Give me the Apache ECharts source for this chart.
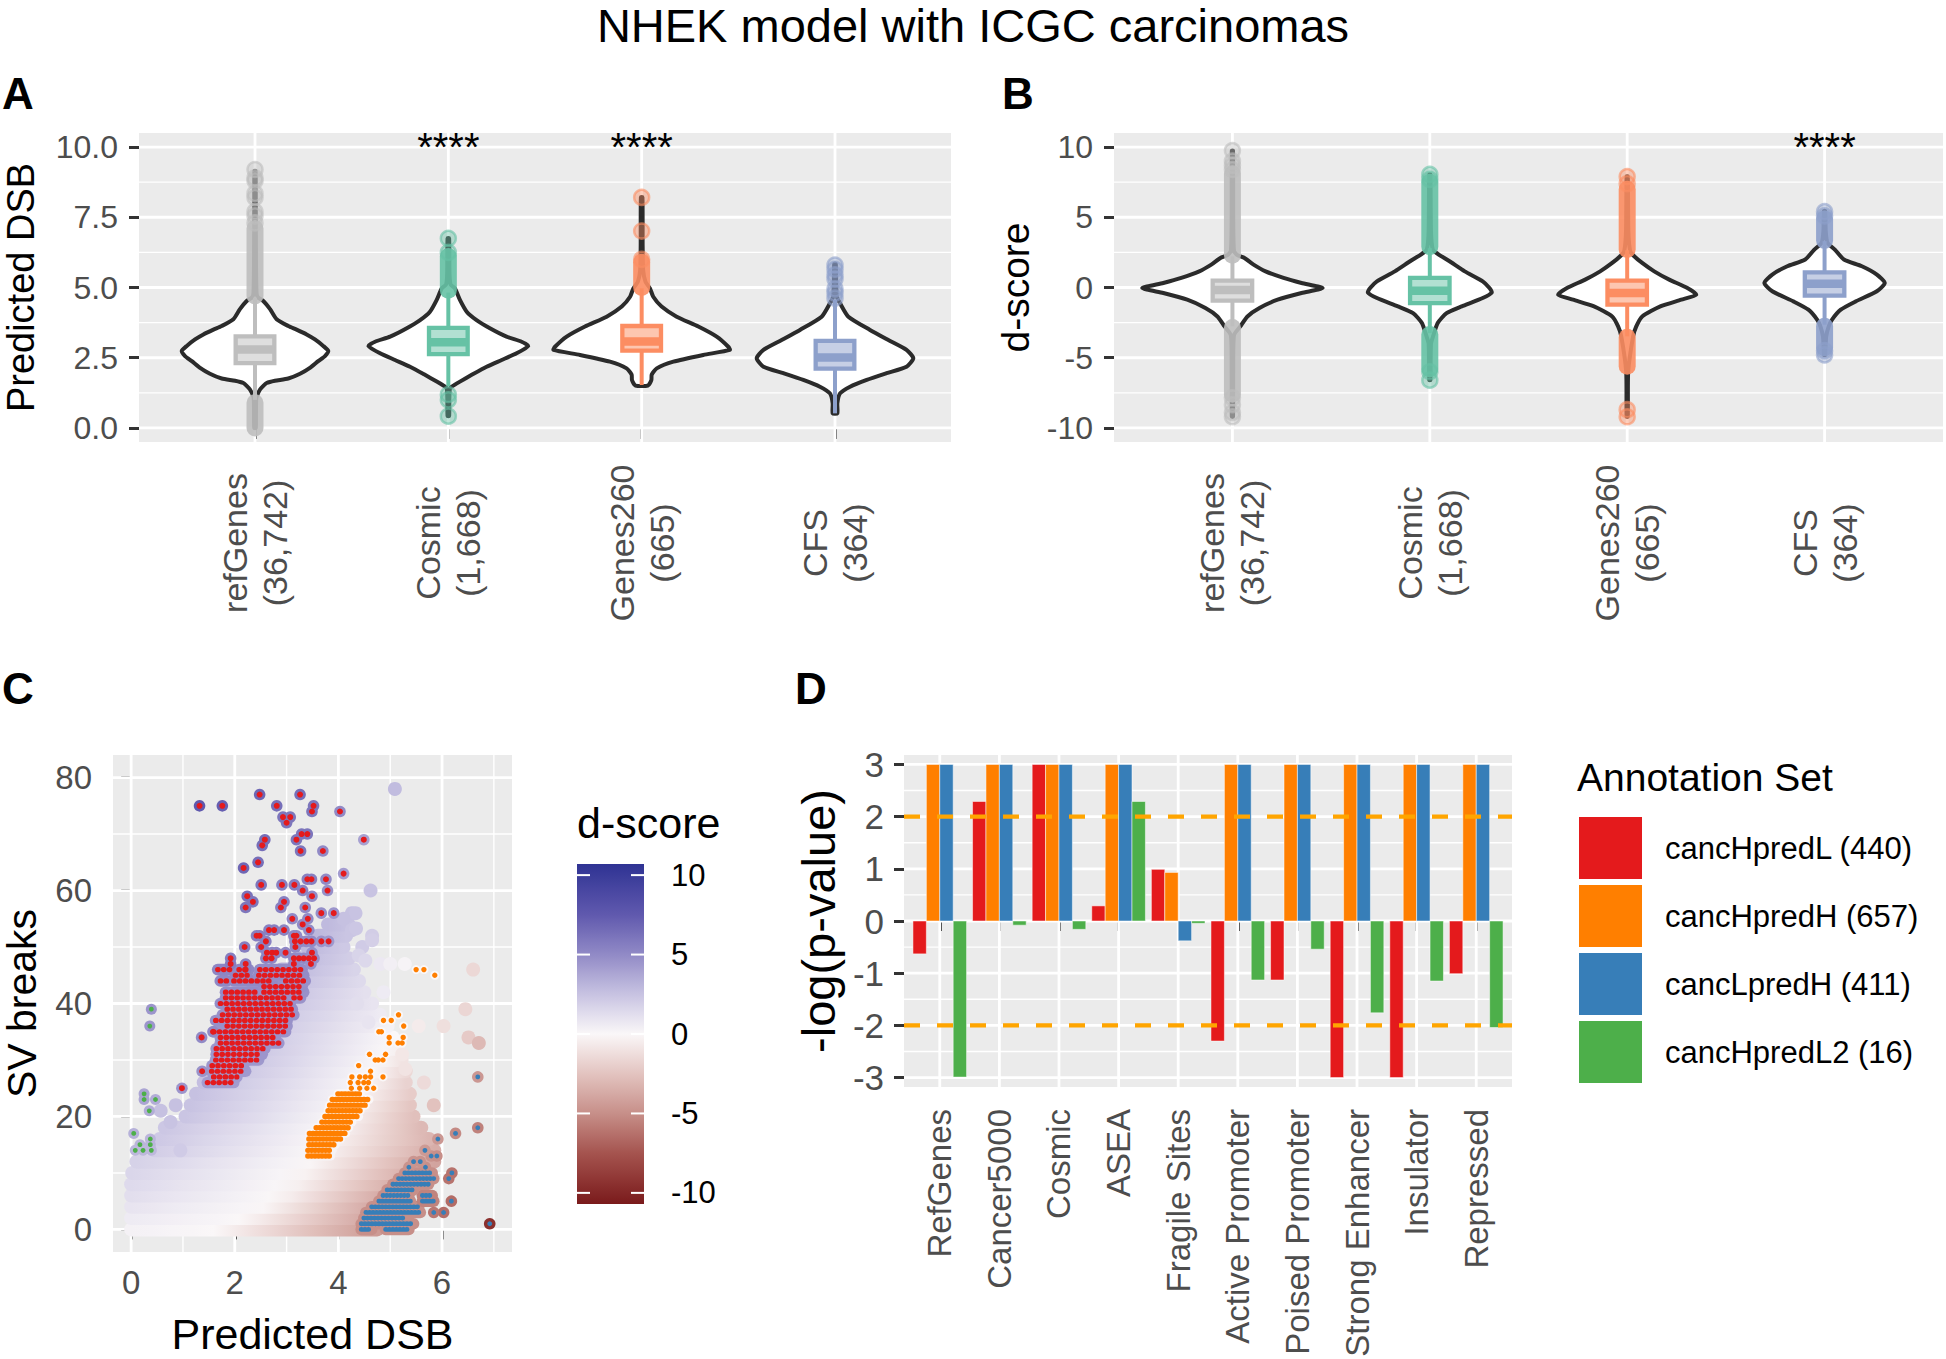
<!DOCTYPE html>
<html>
<head>
<meta charset="utf-8">
<title>NHEK model with ICGC carcinomas</title>
<script src="https://cdn.jsdelivr.net/npm/echarts@6.0.0/dist/echarts.min.js"></script>
<style>
html, body { margin:0; padding:0; background:#ffffff; }
#chart { width:1946px; height:1359px; }
</style>
</head>
<body>
<div id="chart"></div>
<script>
// ================= Panels A & B : categories =================
const abCategories = ['refGenes', 'Cosmic', 'Genes260', 'CFS'];
const abCounts = ['36,742', '1,668', '665', '364'];
const abColors = ['#BEBEBE', '#66C2A5', '#FC8D62', '#8DA0CB'];

// ---- Panel A : Predicted DSB ----
const aTicks = [0, 2.5, 5, 7.5, 10];
const aMinorTicks = [1.25, 3.75, 6.25, 8.75];
// violin outline: [value, half width (category units)]
const aViolinRefGenes = [[0.0,0.004],[0.5,0.005],[1.0,0.006],[1.13,0.009],[1.37,0.026],[1.5,0.043],[1.6,0.06],[1.68,0.103],[1.76,0.172],[1.93,0.233],[2.14,0.284],[2.38,0.327],[2.56,0.362],[2.74,0.379],[2.92,0.353],[3.15,0.31],[3.33,0.267],[3.5,0.215],[3.63,0.172],[3.87,0.112],[4.23,0.078],[4.52,0.043],[4.65,0.015],[4.8,0.008],[6.0,0.005],[8.0,0.004],[9.15,0.003]];
const aViolinCosmic = [[0.42,0.004],[1.0,0.005],[1.4,0.008],[1.47,0.017],[1.65,0.06],[1.89,0.121],[2.18,0.198],[2.42,0.276],[2.66,0.353],[2.92,0.413],[3.07,0.379],[3.25,0.301],[3.55,0.215],[3.84,0.146],[4.14,0.095],[4.56,0.06],[4.97,0.034],[5.1,0.012],[5.5,0.006],[6.75,0.004]];
const aViolinGenes260 = [[1.51,0.032],[1.7,0.05],[1.9,0.052],[2.12,0.078],[2.36,0.164],[2.6,0.319],[2.78,0.456],[2.89,0.448],[3.25,0.388],[3.61,0.293],[3.96,0.181],[4.32,0.103],[4.67,0.06],[4.97,0.043],[5.2,0.02],[5.6,0.008],[6.5,0.005],[8.21,0.004]];
const aViolinCFS = [[0.52,0.012],[0.88,0.012],[1.23,0.026],[1.47,0.078],[1.71,0.164],[1.95,0.267],[2.18,0.37],[2.48,0.405],[2.78,0.37],[3.13,0.276],[3.49,0.181],[3.96,0.069],[4.44,0.026],[4.67,0.01],[5.2,0.006],[5.85,0.004]];
// box: [lower whisker, Q1, median, Q3, upper whisker]
const aBoxRefGenes = [1.0, 2.31, 2.79, 3.26, 4.64];
const aBoxCosmic = [1.49, 2.63, 3.05, 3.56, 4.82];
const aBoxGenes260 = [1.53, 2.75, 3.08, 3.63, 4.97];
const aBoxCFS = [0.52, 2.11, 2.51, 3.10, 4.56];
// outliers: dense runs [from, to] and single points
const aRunsRefGenes = [[4.7, 7.1], [0.0, 0.9]];
const aPointsRefGenes = [7.3, 7.55, 7.7, 8.2, 8.35, 8.8, 8.9, 9.2];
const aRunsCosmic = [[4.9, 6.1]];
const aPointsCosmic = [6.25, 6.75, 1.19, 1.0, 0.42];
const aRunsGenes260 = [[5.0, 5.9]];
const aPointsGenes260 = [6.0, 7.01, 8.21];
const aRunsCFS = [];
const aPointsCFS = [4.62, 4.8, 4.95, 5.3, 5.45, 5.65, 5.8];
const aStars = ['', '****', '****', ''];

// ---- Panel B : d-score ----
const bTicks = [-10, -5, 0, 5, 10];
const bMinorTicks = [-7.5, -2.5, 2.5, 7.5];
const bViolinRefGenes = [[-9.2,0.003],[-6.0,0.004],[-3.4,0.008],[-2.77,0.04],[-2.06,0.076],[-1.46,0.137],[-0.87,0.229],[-0.39,0.35],[-0.04,0.457],[0.32,0.35],[0.68,0.259],[1.15,0.168],[1.63,0.107],[2.1,0.061],[2.3,0.025],[2.6,0.008],[5.0,0.004],[9.75,0.003]];
const bViolinCosmic = [[-6.6,0.003],[-4.0,0.006],[-3.41,0.018],[-2.53,0.04],[-1.82,0.085],[-1.34,0.162],[-0.75,0.268],[-0.35,0.314],[0.0,0.3],[0.44,0.268],[1.15,0.177],[1.87,0.1],[2.4,0.04],[2.7,0.015],[4.0,0.006],[8.05,0.003]];
const bViolinGenes260 = [[-9.2,0.003],[-6.0,0.005],[-3.48,0.03],[-2.77,0.046],[-2.06,0.076],[-1.34,0.168],[-0.87,0.274],[-0.51,0.35],[-0.04,0.305],[0.56,0.213],[1.15,0.137],[1.75,0.076],[2.3,0.03],[2.58,0.015],[4.0,0.006],[7.9,0.003]];
const bViolinCFS = [[-4.8,0.003],[-3.5,0.008],[-2.77,0.021],[-2.3,0.037],[-1.58,0.082],[-0.99,0.158],[-0.27,0.265],[0.32,0.305],[0.92,0.265],[1.51,0.189],[1.99,0.098],[2.7,0.052],[3.18,0.015],[4.0,0.006],[5.45,0.003]];
const bBoxRefGenes = [-2.77, -0.94, -0.18, 0.49, 2.22];
const bBoxCosmic = [-3.25, -1.11, -0.23, 0.68, 2.8];
const bBoxGenes260 = [-3.48, -1.22, -0.39, 0.49, 2.65];
const bBoxCFS = [-2.65, -0.58, 0.27, 1.08, 3.3];
const bRunsRefGenes = [[2.3, 8.1], [-7.6, -2.85]];
const bPointsRefGenes = [8.4, 8.7, 9.0, 9.75, -7.85, -8.35, -8.9, -9.2];
const bRunsCosmic = [[2.9, 7.5], [-5.8, -3.35]];
const bPointsCosmic = [7.7, 8.05, -6.0, -6.6];
const bRunsGenes260 = [[2.7, 7.0], [-5.6, -3.55]];
const bPointsGenes260 = [7.4, 7.9, -8.7, -9.2];
const bRunsCFS = [[3.35, 4.9], [-4.3, -2.75]];
const bPointsCFS = [5.1, 5.4, -4.5, -4.8];
const bStars = ['', '', '', '****'];

// ================= Panel C : SV breaks vs predicted DSB =================
const cXTicks = [0, 2, 4, 6];
const cXMinor = [1, 3, 5, 7];
const cYTicks = [0, 20, 40, 60, 80];
const cYMinor = [10, 30, 50, 70];
// background gene cloud, one band per SV-break level:
// [SV breaks, x from, x to, d-score at left end, x where d-score = 0 (or null), d-score at right end]
const cCloudRows = [
  [0, 0.0, 4.75, 0.3, 1.6, -4.5],
  [2, 0.0, 4.95, 0.6, 2.1, -4.5],
  [4, 0.0, 5.1, 0.9, 2.5, -4.6],
  [6, 0.0, 5.3, 1.2, 2.8, -4.6],
  [8, 0.0, 5.55, 1.4, 3.0, -4.4],
  [10, 0.02, 5.75, 1.6, 3.2, -4.2],
  [12, 0.1, 5.85, 1.8, 3.4, -4.0],
  [14, 0.45, 5.85, 2.0, 3.6, -3.6],
  [16, 0.55, 5.75, 2.2, 3.75, -3.2],
  [18, 0.65, 5.6, 2.3, 3.9, -3.0],
  [20, 1.05, 5.45, 2.4, 4.05, -2.7],
  [22, 1.15, 5.38, 2.5, 4.2, -2.4],
  [24, 1.25, 5.38, 2.6, 4.35, -2.1],
  [26, 1.4, 5.3, 2.7, 4.5, -1.8],
  [28, 1.55, 5.3, 2.8, 4.65, -1.5],
  [30, 1.65, 5.22, 2.9, 4.8, -1.0],
  [32, 1.7, 5.15, 3.0, 4.95, -0.4],
  [34, 1.75, 5.05, 3.0, null, 0.0],
  [36, 1.85, 4.95, 3.0, null, 0.3],
  [38, 1.9, 4.8, 3.1, null, 0.6],
  [40, 2.0, 4.65, 3.2, null, 0.9],
  [42, 2.3, 4.5, 3.2, null, 1.1],
  [44, 2.6, 4.4, 3.2, null, 1.4],
  [46, 2.9, 4.3, 3.2, null, 1.7],
  [48, 3.2, 4.2, 3.0, null, 2.0],
  [50, 3.4, 4.1, 3.0, null, 2.2],
  [52, 3.6, 4.15, 3.0, null, 2.4],
  [54, 3.8, 4.2, 2.9, null, 2.5]
];
// isolated background genes [predicted DSB, SV breaks, d-score]
const cCloudPoints = [[5.09,78,2.8],[4.62,60,2.5],[4.26,56,2.6],[4.33,56,2.5],[4.10,55,2.6],[4.26,53,2.4],[4.34,53.3,2.3],[4.65,52,2],[4.46,50,2.1],[4.65,51.2,1.9],[4.39,48.5,1.7],[4.52,47.6,1.5],[4.81,47,0.7],[5.0,47,0.4],[5.28,47,0.2],[4.87,42,0.6],[4.36,40,1.2],[4.58,36.7,0.9],[6.6,46,-1.5],[6.45,39,-1.6],[6.03,36,-1.2],[5.55,36,-0.6],[6.51,34,-2.2],[6.71,33,-3],[5.65,26,-1.4],[5.84,22,-2.6],[5.23,31,-0.8],[5.29,28.4,-1],[0.86,22,2.6],[0.76,19,2.5],[0.57,21,2.6],[0.95,14,2.1]];
// cancHpredL genes: dense rows [SV breaks, x from, x to, d-score] and single genes [x, y, d-score]
const cRedRows = [[26,1.47,1.98,4.2],[27,1.59,2.04,4.3],[28,1.55,2.21,4.3],[29,1.56,2.17,4.4],[30,1.63,2.46,4.4],[31,1.64,2.53,4.5],[32,1.64,2.58,4.5],[33,1.72,2.85,4.5],[34,1.72,2.78,4.6],[35,1.59,2.98,4.6],[36,1.85,3.01,4.6],[37,1.63,3.01,4.7],[38,1.76,3.14,4.7],[39,1.85,3.11,4.7],[40,1.72,3.07,4.8],[41,1.82,3.01,4.8],[41,3.14,3.27,4.6],[42,1.82,2.46,4.9],[42,2.56,3.33,4.7],[43,2.56,3.30,4.8],[44,1.72,1.85,5.1],[44,1.98,2.72,5.0],[44,2.98,3.36,4.7],[45,2.01,2.24,5.1],[45,2.46,3.33,4.9],[46,1.67,1.92,5.2],[46,2.08,2.27,5.1],[46,2.48,3.30,4.9]];
const cRedPoints = [[1.32,75,7.5],[1.76,75,7.2],[2.48,77,6.8],[3.26,77,6.4],[2.81,75,6.4],[3.52,75,6],[3.49,74,6],[4.03,74,5],[2.93,73,6],[3.07,73,6],[3.0,72,6],[2.58,69,6.4],[2.53,68,6.4],[3.29,70,6],[3.40,70,6],[3.19,69,6],[3.27,67,6],[3.70,67,5],[4.49,69,4],[2.17,64,6.8],[2.45,65,6.4],[4.10,63,4.2],[2.51,61,6],[2.91,61,5.5],[3.15,61,5.5],[3.40,62,5.5],[3.48,62,5.5],[3.76,62,5],[3.31,60,5.3],[3.79,60,4.8],[2.24,59,6.2],[2.35,58,6],[2.21,57,6],[2.95,58,5.5],[2.89,57,5.5],[3.49,59,5],[3.36,57,5],[3.67,56,4.8],[3.91,56,4.5],[3.11,55,5],[3.41,55,5],[3.31,54,5],[3.43,53,5],[2.66,53,5.5],[2.76,53,5.5],[2.95,53,5.3],[2.42,52,5.5],[2.48,52,5.5],[3.14,52,5],[3.19,52,5],[2.60,51,5.4],[3.16,51,5],[3.27,51,5],[3.38,51,5],[3.48,51,5],[3.67,51,4.6],[3.81,51,4.4],[2.19,50,5.6],[2.51,50,5.4],[3.17,50,5],[1.92,48,5.6],[2.62,49,5.2],[2.72,49,5.2],[2.80,49,5.2],[2.98,49,5.1],[3.49,49,4.8],[2.60,48,5.2],[2.71,48,5.2],[3.14,48,5],[3.24,48,5],[3.33,48,5],[3.43,48,4.9],[3.53,48,4.8],[2.21,47,5.4],[3.14,47,5],[3.47,47,4.7],[1.92,47,5.6],[2.21,46,5.3],[0.98,25,4.5],[1.37,28,4.6],[1.36,34,5],[1.58,35,5]];
// cancHpredH genes
const cOrangeRows = [[13,3.41,3.85,0.2],[14,3.41,3.88,0.2],[15,3.43,3.94,0.2],[16,3.43,4.04,0.15],[17,3.44,4.14,0.1],[18,3.57,4.20,0.1],[19,3.68,4.26,0.1],[20,3.74,4.39,0.05],[21,3.80,4.42,0],[22,3.83,4.52,0],[23,3.88,4.59,0],[24,3.99,4.42,0]];
const cOrangePoints = [[4.25,25,0],[4.41,25,0],[4.55,25,0],[4.68,25,0],[4.23,26,0],[4.38,26,0],[4.49,26,0],[4.58,26,0],[4.26,27,0],[4.41,27,0],[4.52,27,0],[4.62,27,0],[4.86,27,0],[4.62,28,0],[4.39,29,0],[4.71,30,0],[4.77,30,0],[4.86,30,0],[4.60,31,0],[4.91,31,0],[4.98,33,0],[5.15,33,0],[5.23,33,0],[4.98,34,0],[5.25,34,0],[4.78,35,0],[4.83,35,0],[5.26,36,0],[4.87,37,0],[5.02,37,0],[5.16,38,0],[5.50,46,0],[5.65,46,0],[5.86,45,0]];
// cancLpredH genes
const cBlueRows = [[0,4.44,4.64,-5],[0,4.91,5.36,-5],[1,4.44,5.45,-5],[2,4.49,5.29,-5],[3,4.53,5.58,-5],[4,4.64,5.55,-5],[5,4.78,5.39,-5],[5,5.62,5.84,-5.5],[6,4.86,5.36,-5],[6,5.62,5.81,-5.5],[7,4.94,5.45,-5],[8,5.05,5.74,-5],[9,5.16,5.84,-5],[10,5.28,5.81,-5]];
const cBluePoints = [[5.36,11,-4.8],[5.68,11,-5],[5.45,12,-4.7],[5.58,12,-4.8],[5.79,13,-4.8],[5.90,13,-5],[5.67,14,-4.5],[5.92,16,-4.6],[6.26,17,-5.2],[6.69,18,-5.6],[6.69,27,-4.6],[6.19,10,-6.2],[6.13,9,-6.2],[6.18,5,-6.5],[6.03,3,-6.4],[5.84,3,-6],[6.92,1,-9.5]];
// cancHpredL2 genes
const cGreenPoints = [[0.39,39,4.5],[0.36,36,4.5],[0.25,24,3.8],[0.25,23,3.8],[0.47,23,3.5],[0.35,21,3.5],[0.05,17,3.3],[0.17,15,3.1],[0.37,16,3.1],[0.37,15,3.1],[0.08,14,3.0],[0.23,14,3.0],[0.39,14,3.0]];
// d-score colour bar
const cbTicks = [-10, -5, 0, 5, 10];
const cbMin = -10.7, cbMax = 10.7;
const dScoreStops = [[-10.7,'#7A1A1B'],[-7.5,'#A5544F'],[-5,'#C78F89'],[-2.5,'#E3C4C0'],[0,'#FAF7F8'],[2.5,'#C8C3E2'],[5,'#918AC6'],[7.5,'#6059AE'],[10.7,'#2F3393']];

// ================= Panel D : enrichment =================
const dCategories = ['RefGenes','Cancer5000','Cosmic','ASEA','Fragile Sites','Active Promoter','Poised Promoter','Strong Enhancer','Insulator','Repressed'];
const dSets = ['cancHpredL (440)', 'cancHpredH (657)', 'cancLpredH (411)', 'cancHpredL2 (16)'];
const dColors = ['#E41A1C', '#FF7F00', '#377EB8', '#4DAF4A'];
const dCancHpredL  = [-0.63, 2.29, 3, 0.29, 0.99, -2.30, -1.13, -3, -3, -1.01];
const dCancHpredH  = [3, 3, 3, 3, 0.93, 3, 3, 3, 3, 3];
const dCancLpredH  = [3, 3, 3, 3, -0.38, 3, 3, 3, 3, 3];
const dCancHpredL2 = [-2.99, -0.08, -0.16, 2.29, -0.045, -1.13, -0.54, -1.76, -1.15, -2.04];
const dThresholds = [2, -2];
const dTicks = [-3, -2, -1, 0, 1, 2, 3];
const dMinor = [-2.5, -1.5, -0.5, 0.5, 1.5, 2.5];

// ================= helpers =================
const FONT = '"Liberation Sans", Arial, Helvetica, sans-serif';
const TICK_COLOR = '#333333', LABEL_COLOR = '#4D4D4D', PANEL_BG = '#EBEBEB';

function hexRgb(h) { const n = parseInt(h.slice(1), 16); return [(n >> 16) & 255, (n >> 8) & 255, n & 255]; }
function rgba(h, a) { const c = hexRgb(h); return 'rgba(' + c[0] + ',' + c[1] + ',' + c[2] + ',' + a + ')'; }
function dColor(d) {
  const s = dScoreStops;
  if (d <= s[0][0]) return s[0][1];
  if (d >= s[s.length - 1][0]) return s[s.length - 1][1];
  for (let i = 1; i < s.length; i++) {
    if (d <= s[i][0]) {
      const t = (d - s[i - 1][0]) / (s[i][0] - s[i - 1][0]);
      const a = hexRgb(s[i - 1][1]), b = hexRgb(s[i][1]);
      return 'rgb(' + a.map((v, k) => Math.round(v + (b[k] - v) * t)).join(',') + ')';
    }
  }
  return s[s.length - 1][1];
}

function axis(gridIndex, min, max, ticks, labelOpts, tickOpts, extra) {
  return Object.assign({
    type: 'value', gridIndex: gridIndex, min: min, max: max,
    axisLine: { show: false },
    axisTick: Object.assign({ show: true, customValues: ticks, length: 10, lineStyle: { color: TICK_COLOR, width: 3 } }, tickOpts || {}),
    axisLabel: Object.assign({ show: true, customValues: ticks, color: LABEL_COLOR, fontSize: 32, fontFamily: FONT, margin: 21 }, labelOpts || {}),
    splitLine: { show: false }, minorTick: { show: false }, minorSplitLine: { show: false }
  }, extra || {});
}

function panelGridSeries(gi, xMajor, xMinor, yMajor, yMinor) {
  return {
    type: 'custom', xAxisIndex: gi, yAxisIndex: gi, silent: true, data: [[0, 0]],
    renderItem: function (params, api) {
      const cs = params.coordSys, ch = [];
      const xl = cs.x, xr = cs.x + cs.width, yt = cs.y, yb = cs.y + cs.height;
      const h = (v, w) => { const y = api.coord([0, v])[1]; ch.push({ type: 'line', shape: { x1: xl, y1: y, x2: xr, y2: y }, style: { stroke: '#ffffff', lineWidth: w } }); };
      const vt = (v, w) => { const x = api.coord([v, 0])[0]; ch.push({ type: 'line', shape: { x1: x, y1: yt, x2: x, y2: yb }, style: { stroke: '#ffffff', lineWidth: w } }); };
      yMinor.forEach(v => h(v, 1.4)); xMinor.forEach(v => vt(v, 1.4));
      yMajor.forEach(v => h(v, 2.8)); xMajor.forEach(v => vt(v, 2.8));
      return { type: 'group', children: ch };
    }
  };
}

function violinSeries(gi, profiles, boxes, runs, points, stars) {
  return {
    type: 'custom', xAxisIndex: gi, yAxisIndex: gi, silent: true,
    data: boxes.map((b, i) => [i + 1, b[2]]),
    renderItem: function (params, api) {
      const i = params.dataIndex, cat = i + 1, col = abColors[i];
      const prof = profiles[i];
      const right = prof.map(p => api.coord([cat + p[1], p[0]]));
      const left = prof.slice().reverse().map(p => api.coord([cat - p[1], p[0]]));
      const ch = [];
      ch.push({ type: 'polygon', shape: { points: right.concat(left), smooth: 0.2 }, style: { fill: '#ffffff', stroke: '#2b2b2b', lineWidth: 4, lineJoin: 'round' } });
      const seg = (x1, y1, x2, y2, style) => { const a = api.coord([x1, y1]), b = api.coord([x2, y2]); return { type: 'line', shape: { x1: a[0], y1: a[1], x2: b[0], y2: b[1] }, style: style }; };
      const bx = boxes[i];
      ch.push(seg(cat, bx[3], cat, bx[4], { stroke: col, lineWidth: 4 }));
      ch.push(seg(cat, bx[1], cat, bx[0], { stroke: col, lineWidth: 4 }));
      const bw = 0.1;
      const tl = api.coord([cat - bw, bx[3]]), br = api.coord([cat + bw, bx[1]]);
      ch.push({ type: 'rect', shape: { x: tl[0], y: tl[1], width: br[0] - tl[0], height: br[1] - tl[1] }, style: { fill: rgba(col, 0.5), stroke: col, lineWidth: 4.3 } });
      ch.push(seg(cat - bw, bx[2], cat + bw, bx[2], { stroke: col, lineWidth: 8.5 }));
      runs[i].forEach(r => ch.push(seg(cat, r[0], cat, r[1], { stroke: rgba(col, 0.9), lineWidth: 17, lineCap: 'round' })));
      points[i].forEach(v => { const p = api.coord([cat, v]); ch.push({ type: 'circle', shape: { cx: p[0], cy: p[1], r: 7.5 }, style: { fill: rgba(col, 0.42), stroke: rgba(col, 0.6), lineWidth: 2.5 } }); });
      if (stars[i]) {
        const p = api.coord([cat, 10]);
        ch.push({ type: 'text', style: { text: stars[i], x: p[0], y: p[1], align: 'center', verticalAlign: 'middle', textAlign: 'center', textVerticalAlign: 'middle', fontSize: 40, fontFamily: FONT, fill: '#000000' } });
      }
      return { type: 'group', children: ch };
    }
  };
}

function cloudRowSeries() {
  return {
    type: 'custom', xAxisIndex: 2, yAxisIndex: 2, silent: true, data: cCloudRows, encode: { x: 1, y: 0 },
    renderItem: function (params, api) {
      const r = cCloudRows[params.dataIndex];
      const y = r[0], x1 = r[1], x2 = r[2], dL = r[3], x0 = r[4], dR = r[5];
      const a = api.coord([x1, y]), b = api.coord([x2, y]);
      const stops = [];
      for (let k = 0; k <= 12; k++) {
        const t = k / 12, x = x1 + t * (x2 - x1);
        let d;
        if (x0 !== null) d = x <= x0 ? dL * (x0 - x) / (x0 - x1) : dR * (x - x0) / (x2 - x0);
        else d = dL + (dR - dL) * t;
        stops.push({ offset: t, color: dColor(d) });
      }
      return { type: 'line', shape: { x1: a[0], y1: a[1], x2: b[0], y2: b[1] },
        style: { stroke: { type: 'linear', x: a[0], y: 0, x2: b[0], y2: 0, global: true, colorStops: stops }, lineWidth: 14, lineCap: 'round' } };
    }
  };
}

// rows of genes: halo (d-score colour) or dotted core (set colour)
function rowSeries(rows, mode, color, width, gap) {
  return {
    type: 'custom', xAxisIndex: 2, yAxisIndex: 2, silent: true, data: rows, encode: { x: 1, y: 0 },
    renderItem: function (params, api) {
      const r = rows[params.dataIndex];
      const a = api.coord([r[1], r[0]]), b = api.coord([r[2], r[0]]);
      const style = mode === 'halo'
        ? { stroke: dColor(r[3]), lineWidth: width, lineCap: 'round' }
        : { stroke: color, lineWidth: width, lineCap: 'round', lineDash: [0.5, gap] };
      return { type: 'line', shape: { x1: a[0], y1: a[1], x2: b[0], y2: b[1] }, style: style };
    }
  };
}
function pointSeries(pts, mode, color, radius) {
  return {
    type: 'custom', xAxisIndex: 2, yAxisIndex: 2, silent: true, data: pts,
    renderItem: function (params, api) {
      const p = pts[params.dataIndex];
      const c = api.coord([p[0], p[1]]);
      return { type: 'circle', shape: { cx: c[0], cy: c[1], r: radius }, style: { fill: mode === 'halo' ? dColor(p[2]) : color } };
    }
  };
}

function colorBarSeries() {
  return {
    type: 'custom', xAxisIndex: 3, yAxisIndex: 3, silent: true, data: [[0, 0]],
    renderItem: function (params, api) {
      const top = api.coord([0, cbMax]), bot = api.coord([1, cbMin]);
      const stops = [];
      for (let k = 0; k <= 40; k++) { const d = cbMax - (k / 40) * (cbMax - cbMin); stops.push({ offset: k / 40, color: dColor(d) }); }
      const ch = [{ type: 'rect', shape: { x: top[0], y: top[1], width: bot[0] - top[0], height: bot[1] - top[1] },
        style: { fill: { type: 'linear', x: 0, y: 0, x2: 0, y2: 1, colorStops: stops } } }];
      cbTicks.forEach(v => {
        const y = api.coord([0, v])[1];
        ch.push({ type: 'line', shape: { x1: top[0], y1: y, x2: top[0] + 13, y2: y }, style: { stroke: '#ffffff', lineWidth: 2 } });
        ch.push({ type: 'line', shape: { x1: bot[0] - 13, y1: y, x2: bot[0], y2: y }, style: { stroke: '#ffffff', lineWidth: 2 } });
      });
      return { type: 'group', children: ch };
    }
  };
}

const dValues = [dCancHpredL, dCancHpredH, dCancLpredH, dCancHpredL2];
function barSeries(k) {
  return {
    type: 'custom', name: dSets[k], xAxisIndex: 4, yAxisIndex: 4, silent: true,
    itemStyle: { color: dColors[k] },
    data: dValues[k].map((v, i) => [i + 1, v]),
    renderItem: function (params, api) {
      const x = api.value(0), v = api.value(1), w = 0.9 / 4;
      const xl = x - 0.45 + k * w;
      const a = api.coord([xl, v]), b = api.coord([xl + w, 0]);
      return { type: 'rect', shape: { x: a[0], y: Math.min(a[1], b[1]), width: b[0] - a[0], height: Math.abs(b[1] - a[1]) },
        style: { fill: dColors[k], stroke: 'rgba(255,255,255,0.5)', lineWidth: 1 } };
    }
  };
}
function thresholdSeries() {
  return {
    type: 'custom', xAxisIndex: 4, yAxisIndex: 4, silent: true, data: dThresholds.map(v => [0.4, v]),
    renderItem: function (params, api) {
      const v = api.value(1);
      const a = api.coord([0.4, v]), b = api.coord([10.6, v]);
      return { type: 'line', shape: { x1: a[0], y1: a[1], x2: b[0], y2: b[1] }, style: { stroke: '#FFA500', lineWidth: 4.3, lineDash: [16, 17] } };
    }
  };
}

function txt(text, x, y, size, opts) {
  return Object.assign({ type: 'text', x: x, y: y, silent: true,
    style: Object.assign({ text: text, x: 0, y: 0, fill: '#000000', fontSize: size, fontFamily: FONT, align: 'center', verticalAlign: 'middle', textAlign: 'center', textVerticalAlign: 'middle' }, (opts && opts.style) || {}) },
    (opts && opts.el) || {});
}

const abLabel = v => abCategories[v - 1] + '\n(' + abCounts[v - 1] + ')';
const gridBase = { show: true, backgroundColor: PANEL_BG, borderWidth: 0, containLabel: false, outerBoundsMode: 'none' };

const option = {
  animation: false,
  backgroundColor: '#ffffff',
  textStyle: { fontFamily: FONT },
  grid: [
    Object.assign({ left: 139, top: 133, width: 812, height: 309 }, gridBase),
    Object.assign({ left: 1114, top: 133, width: 829, height: 309 }, gridBase),
    Object.assign({ left: 113, top: 755, width: 399, height: 497 }, gridBase),
    { left: 577, top: 864, width: 67, height: 340, show: false, containLabel: false, outerBoundsMode: 'none' },
    Object.assign({ left: 904, top: 755, width: 608, height: 332 }, gridBase)
  ],
  xAxis: [
    axis(0, 0.4, 4.6, [1, 2, 3, 4], { formatter: abLabel, rotate: 90, align: 'center', verticalAlign: 'middle', margin: 101, fontSize: 34, lineHeight: 40 }, { length: 11 }),
    axis(1, 0.4, 4.6, [1, 2, 3, 4], { formatter: abLabel, rotate: 90, align: 'center', verticalAlign: 'middle', margin: 101, fontSize: 34, lineHeight: 40 }, { length: 11 }),
    axis(2, -0.35, 7.35, cXTicks, { fontSize: 33, margin: 14 }),
    { type: 'value', gridIndex: 3, min: 0, max: 1, show: false },
    axis(4, 0.4, 10.6, [1, 2, 3, 4, 5, 6, 7, 8, 9, 10], { formatter: v => dCategories[v - 1], rotate: 90, fontSize: 33, margin: 22 })
  ],
  yAxis: [
    axis(0, -0.5, 10.5, aTicks, { formatter: v => v.toFixed(1) }),
    axis(1, -11, 11, bTicks, { formatter: v => String(v) }),
    axis(2, -4, 84, cYTicks, { fontSize: 33 }),
    axis(3, cbMin, cbMax, cbTicks, { color: '#000000', fontSize: 31, margin: 27, formatter: v => String(v) }, { show: false }, { position: 'right' }),
    axis(4, -3.18, 3.18, dTicks, { fontSize: 35, margin: 20, formatter: v => String(v) })
  ],
  legend: {
    show: true, data: dSets, left: 1579, top: 817, padding: 0, orient: 'vertical', icon: 'rect',
    itemWidth: 63, itemHeight: 62, itemGap: 6, selectedMode: false,
    textStyle: { fontSize: 31, color: '#000000', fontFamily: FONT, padding: [0, 0, 0, 18] }
  },
  graphic: { elements: [
    txt('NHEK model with ICGC carcinomas', 973, 25, 47),
    txt('A', 2, 93, 44, { style: { fontWeight: 'bold', align: 'left', textAlign: 'left' } }),
    txt('B', 1002, 93, 44, { style: { fontWeight: 'bold', align: 'left', textAlign: 'left' } }),
    txt('C', 2, 688, 44, { style: { fontWeight: 'bold', align: 'left', textAlign: 'left' } }),
    txt('D', 795, 688, 44, { style: { fontWeight: 'bold', align: 'left', textAlign: 'left' } }),
    txt('Predicted DSB', 21, 287.5, 38, { el: { rotation: Math.PI / 2 } }),
    txt('d-score', 1015, 287.5, 39, { el: { rotation: Math.PI / 2 } }),
    txt('SV breaks', 22, 1003.5, 41, { el: { rotation: Math.PI / 2 } }),
    txt('Predicted DSB', 312.5, 1334, 43),
    txt('-log(p-value)', 818, 921, 47, { el: { rotation: Math.PI / 2 } }),
    txt('d-score', 577, 823, 43, { style: { align: 'left', textAlign: 'left' } }),
    txt('Annotation Set', 1577, 777, 39, { style: { align: 'left', textAlign: 'left' } })
  ] },
  series: [
    panelGridSeries(0, [1, 2, 3, 4], [], aTicks, aMinorTicks),
    violinSeries(0,
      [aViolinRefGenes, aViolinCosmic, aViolinGenes260, aViolinCFS],
      [aBoxRefGenes, aBoxCosmic, aBoxGenes260, aBoxCFS],
      [aRunsRefGenes, aRunsCosmic, aRunsGenes260, aRunsCFS],
      [aPointsRefGenes, aPointsCosmic, aPointsGenes260, aPointsCFS], aStars),
    panelGridSeries(1, [1, 2, 3, 4], [], bTicks, bMinorTicks),
    violinSeries(1,
      [bViolinRefGenes, bViolinCosmic, bViolinGenes260, bViolinCFS],
      [bBoxRefGenes, bBoxCosmic, bBoxGenes260, bBoxCFS],
      [bRunsRefGenes, bRunsCosmic, bRunsGenes260, bRunsCFS],
      [bPointsRefGenes, bPointsCosmic, bPointsGenes260, bPointsCFS], bStars),
    panelGridSeries(2, cXTicks, cXMinor, cYTicks, cYMinor),
    cloudRowSeries(),
    pointSeries(cCloudPoints, 'halo', null, 7),
    rowSeries(cOrangeRows, 'halo', null, 9),
    pointSeries(cOrangePoints, 'halo', null, 4.5),
    rowSeries(cOrangeRows, 'dot', '#FF7F00', 5.4, 3),
    pointSeries(cOrangePoints, 'dot', '#FF7F00', 2.7),
    rowSeries(cBlueRows, 'halo', null, 11.6),
    pointSeries(cBluePoints, 'halo', null, 5.8),
    rowSeries(cBlueRows, 'dot', '#377EB8', 4.8, 3),
    pointSeries(cBluePoints, 'dot', '#377EB8', 2.4),
    rowSeries(cRedRows, 'halo', null, 11.6),
    pointSeries(cRedPoints, 'halo', null, 5.8),
    rowSeries(cRedRows, 'dot', '#E41A1C', 5.2, 5.3),
    pointSeries(cRedPoints, 'dot', '#E41A1C', 3),
    pointSeries(cGreenPoints, 'halo', null, 5.5),
    pointSeries(cGreenPoints, 'dot', '#4DAF4A', 2.4),
    colorBarSeries(),
    panelGridSeries(4, [1, 2, 3, 4, 5, 6, 7, 8, 9, 10], [], dTicks, dMinor),
    barSeries(0), barSeries(1), barSeries(2), barSeries(3),
    thresholdSeries()
  ]
};

const chart = echarts.init(document.getElementById('chart'), null, { renderer: 'svg', width: 1946, height: 1359 });
chart.setOption(option);
</script>
</body>
</html>
